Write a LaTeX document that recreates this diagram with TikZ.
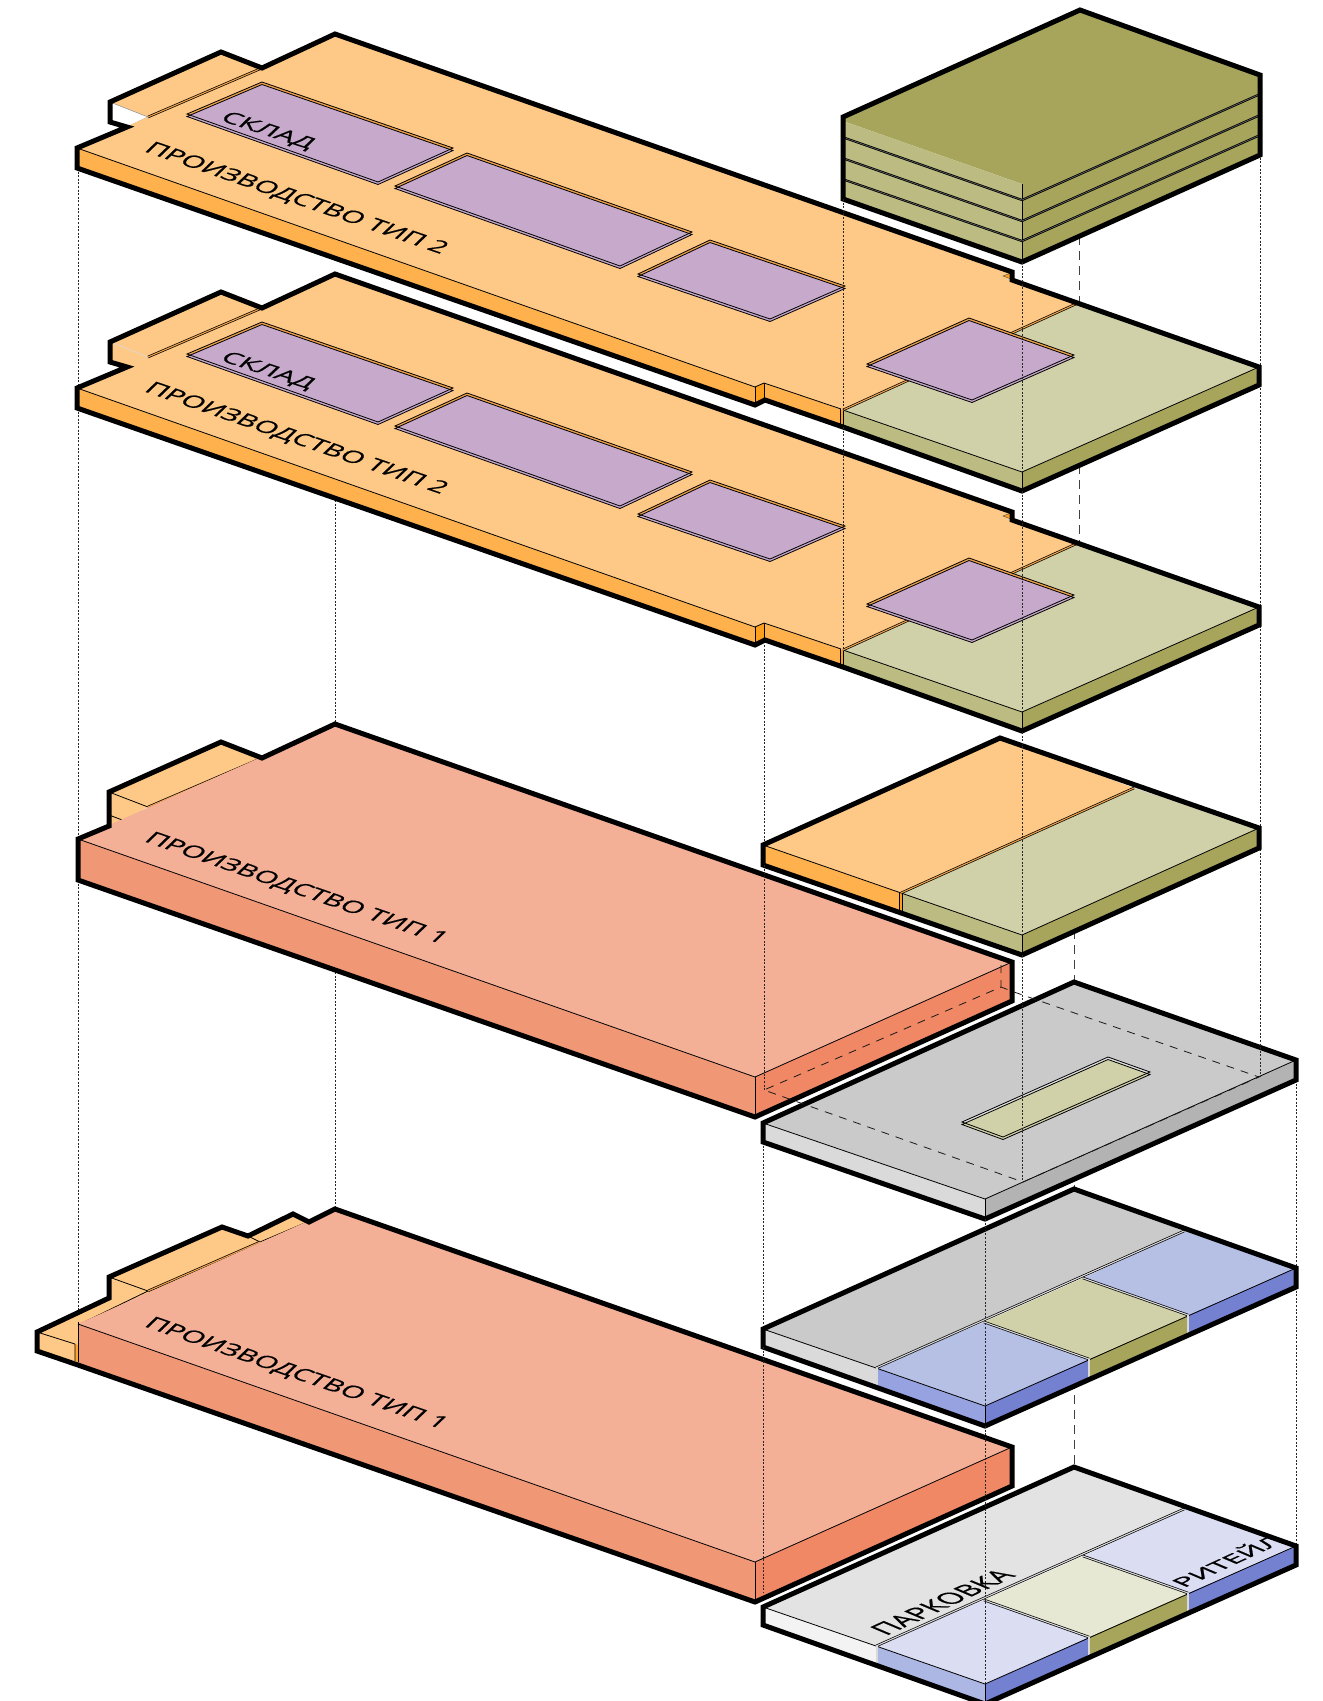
\documentclass[tikz,border=0pt]{standalone}
\usepackage{graphicx}
\usepackage{fontspec}
\setmainfont[FakeBold=0.6]{Open Sans}
\definecolor{otop}{HTML}{FEC986}
\definecolor{oside}{HTML}{FEB14D}
\definecolor{onotch}{HTML}{FF9F1E}
\definecolor{ogap}{HTML}{F0A24A}
\definecolor{gtop}{HTML}{D1D1A9}
\definecolor{gleft}{HTML}{BCBC82}
\definecolor{gright}{HTML}{A6A55B}
\definecolor{purp}{HTML}{C7A9CB}
\definecolor{rtop}{HTML}{F4B097}
\definecolor{rleft}{HTML}{F09876}
\definecolor{rright}{HTML}{F08865}
\definecolor{stop}{HTML}{CACACA}
\definecolor{sleft}{HTML}{DADADA}
\definecolor{sright}{HTML}{B3B3B3}
\definecolor{btop}{HTML}{B6C0E4}
\definecolor{bleft}{HTML}{97A3E0}
\definecolor{bright}{HTML}{7480D0}
\definecolor{stopb}{HTML}{E3E3E3}
\definecolor{sleftb}{HTML}{F3F3F3}
\definecolor{btopb}{HTML}{DBDEF2}
\definecolor{bleftb}{HTML}{ADB7E4}
\definecolor{gtopb}{HTML}{E6E8D4}
\tikzset{
  heavy/.style={draw=black,line width=5pt,line join=miter,miter limit=6},
  thin line/.style={draw=black,line width=.8pt},
  dots/.style={draw=black!85,line width=.7pt,dash pattern=on 2pt off 1.6pt},
  longdash/.style={draw=black!75,line width=.8pt,dash pattern=on 9pt off 6pt},
  hiddenedge/.style={draw=black!90,line width=.8pt,dash pattern=on 8pt off 7pt},
  dblorange/.style={draw=black,line width=.7pt,double=ogap,double distance=1.1pt},
  dblgray/.style={draw=black,line width=.7pt,double=white!85!black,double distance=1.1pt},
  dblfloor/.style={draw=black,line width=.8pt,double=black!60,double distance=.6pt},
}
% name, x, y, matrix, width, height, text
\newcommand{\isotext}[7]{\node[transform shape,cm={#4,(#2,#3)},anchor=base west,inner sep=0pt,text=black] (#1) at (0,0) {\resizebox{#5pt}{#6pt}{#7}};}
% gap colour, inner colour, four corners
\newcommand{\inset}[6]{%
  \path[fill=#1] #3--#4--#5--#6--cycle;
  \path[fill=#2,thin line,yshift=-2.5pt] #3--#4--#5--#6--cycle;
  \path[thin line] #3--#4--#5--#6--cycle;
}
% dy, wing side colour, wing line colour, name suffix
\newcommand{\prodlayer}[4]{%
\begin{scope}[shift={(0,#1)}]
  % side faces
  \fill[oside] (77,148)--(755,387)--(755,405)--(77,168)--cycle;
  \fill[onotch] (755,387)--(764,383)--(764,401)--(755,405)--cycle;
  \fill[oside] (764,383)--(843,410)--(843,427)--(764,400)--cycle;
  \fill[onotch] (840,409)--(843,410)--(843,427)--(840,426)--cycle;
  \fill[gleft] (843,410)--(1022,472)--(1022,491)--(843,427)--cycle;
  \fill[gright] (1022,472)--(1259,367)--(1259,385)--(1022,491)--cycle;
  % wing
  \fill[#2] (110,102)--(148,117)--(127,127)--(110,122)--cycle;
  \fill[otop] (110,102)--(221,52)--(262,68)--(148,117)--cycle;
  \path[draw=#3,line width=.6pt] (110,102)--(148,117)--(127,127);
  % top faces
  \fill[otop] (77,148)--(148,117)--(262,68)--(335,34)--(1012,272)--(1012,280)--(1078,303)--(843,410)--(764,383)--(755,387)--cycle;
  \fill[gtop] (1078,303)--(1259,367)--(1022,472)--(843,410)--cycle;
  % small notch
  \path[fill=onotch,draw=black!70,line width=.4pt] (1003,276)--(1011,273)--(1011,279)--cycle;
  % thin edges
  \path[thin line] (77,148)--(755,387)--(764,383)--(841,409);
  \path[thin line] (755,387)--(755,405);
  \path[thin line] (764,383)--(764,401);
  \path[thin line] (843,410)--(1022,472)--(1259,367);
  \path[thin line] (1022,472)--(1022,491);
  \path[thin line] (840,409)--(840,426);
  \path[thin line] (843,410)--(843,427);
  \path[dblorange] (148,117)--(262,68);
  \path[dblorange] (843,410)--(1078,303);
  % storage rooms
  \inset{ogap}{purp}{(262,82)}{(453,148)}{(378,182)}{(187,114)}
  \inset{ogap}{purp}{(467,153)}{(692,232)}{(620,266)}{(395,186)}
  \inset{ogap}{purp}{(710,240)}{(845,286)}{(770,319)}{(638,274)}
  \inset{ogap}{purp}{(969,318)}{(1074,355)}{(972,400)}{(867,364)}
  % outline
  \path[heavy] (77,148)--(127,127)--(110,122)--(110,102)--(221,52)--(262,68)--(335,34)--(1012,272)--(1012,280)--(1259,367)--(1259,385)--(1022,491)--(843,427)--(765,400)--(755,405)--(77,168)--cycle;
  \isotext{sklad#4}{219}{120}{.95,-.31,.72,.69}{94}{14}{СКЛАД}
  \isotext{prodtwo#4}{143}{151}{.945,-.327,.72,.69}{315}{15}{ПРОИЗВОДСТВО ТИП 2}
\end{scope}}
% dy, face colours: gray top, gray left, blue top, blue left, green top
\newcommand{\podium}[6]{%
\begin{scope}[shift={(0,#1)}]
  \fill[#3] (763,1329)--(876,1368)--(876,1386)--(763,1347)--cycle;
  \fill[#5] (876,1368)--(985,1406)--(985,1426)--(876,1386)--cycle;
  \fill[bright] (985,1406)--(1089,1359)--(1089,1377)--(985,1426)--cycle;
  \fill[gright] (1089,1359)--(1188,1315)--(1188,1333)--(1089,1377)--cycle;
  \fill[bright] (1188,1315)--(1296,1268)--(1296,1287)--(1188,1333)--cycle;
  \fill[#2] (763,1329)--(1074,1189)--(1184,1231)--(876,1368)--cycle;
  \fill[#4] (1184,1231)--(1296,1268)--(1188,1315)--(1083,1278)--cycle;
  \fill[#6] (1083,1278)--(1188,1315)--(1089,1359)--(984,1322)--cycle;
  \fill[#4] (984,1322)--(1089,1359)--(985,1406)--(876,1368)--cycle;
  \path[thin line] (763,1329)--(876,1368)--(985,1406)--(1296,1268);
  \path[thin line] (985,1406)--(985,1426);
  \path[dblgray] (876,1368)--(1184,1231);
  \path[dblgray] (1083,1278)--(1188,1315);
  \path[dblgray] (984,1322)--(1089,1359);
  \path[dblgray] (877,1368)--(877,1386);
  \path[dblgray] (1089,1359)--(1089,1377);
  \path[dblgray] (1188,1315)--(1188,1333);
  \path[heavy] (763,1329)--(1074,1189)--(1296,1268)--(1296,1287)--(985,1426)--(763,1347)--cycle;
\end{scope}}
% dy, name suffix
\newcommand{\redblock}[2]{%
\begin{scope}[shift={(0,#1)}]
  \fill[rleft] (78,839)--(755,1077)--(755,1117)--(78,880)--cycle;
  \fill[rright] (755,1077)--(1012,962)--(1012,1001)--(755,1117)--cycle;
  \fill[rtop] (78,839)--(335,724)--(1012,962)--(755,1077)--cycle;
  \path[thin line] (78,839)--(755,1077)--(1012,962);
  \path[thin line] (755,1077)--(755,1117);
  \isotext{prodone#2}{143}{841}{.945,-.327,.72,.69}{315}{15}{ПРОИЗВОДСТВО ТИП 1}
\end{scope}}
\begin{document}
\begin{tikzpicture}[x=1pt,y=-1pt]
\clip (0,0) rectangle (1323,1701);
\fill[white] (0,0) rectangle (1323,1701);

% projection lines behind the solids
\path[dots] (78,168)--(78,388);
\path[dots] (78,408)--(78,839);
\path[dots] (78,880)--(78,1322);
\path[dots] (335,500)--(335,724);
\path[dots] (335,972)--(335,1208);
\path[dots] (1260,75)--(1260,1040);
\path[dots] (764,645)--(764,845);
\path[dots] (763,1142)--(763,1329);
\path[dots] (1296,1080)--(1296,1268);
\path[dots] (1296,1287)--(1296,1544);
\path[longdash] (1079,236)--(1079,303);
\path[longdash] (1079,465)--(1079,543);
\path[longdash] (1074,900)--(1074,982);
\path[longdash] (1074,1170)--(1074,1189);
\path[longdash] (1074,1380)--(1074,1467);

% top building
\fill[gright] (843,117)--(1080,10)--(1260,75)--(1260,155)--(1022,262)--(1022,184)--(843,121)--cycle;
\fill[gleft] (843,121)--(1022,184)--(1022,262)--(843,199)--cycle;
\path[thin line] (1022,184)--(1022,262);
\path[dblfloor] (845,138)--(1022,200)--(1258,95);
\path[dblfloor] (845,159)--(1022,221)--(1258,116);
\path[dblfloor] (845,180)--(1022,241)--(1258,136);
\path[heavy] (843,117)--(1080,10)--(1260,75)--(1260,155)--(1022,262)--(843,199)--cycle;

% production floors
\prodlayer{0}{white}{black!40}{a}
\prodlayer{240}{otop}{black!15}{b}

% middle block at right
\fill[oside] (763,845)--(901,893)--(901,912)--(763,865)--cycle;
\fill[onotch] (899,892)--(902,893)--(902,912)--(899,911)--cycle;
\fill[gleft] (902,893)--(1022,935)--(1022,955)--(902,912)--cycle;
\fill[gright] (1022,935)--(1259,828)--(1259,848)--(1022,955)--cycle;
\fill[otop] (763,845)--(1000,738)--(1134,788)--(901,893)--cycle;
\fill[gtop] (1134,788)--(1259,828)--(1022,935)--(901,893)--cycle;
\path[thin line] (763,845)--(1022,935)--(1259,828);
\path[thin line] (1022,935)--(1022,955);
\path[thin line] (899,892)--(899,911);
\path[thin line] (902,893)--(902,912);
\path[dblorange] (901,893)--(1134,788);
\path[heavy] (763,845)--(1000,738)--(1259,828)--(1259,848)--(1022,955)--(763,865)--cycle;

% wings of first red block
\fill[otop] (109,792)--(221,742)--(262,758)--(148,807)--(125,820)--(109,826)--cycle;
\path[thin line] (109,792)--(148,807);
\path[thin line] (109,815)--(125,821);
\path[dblorange] (148,807)--(262,758);
\redblock{0}{c}
\path[heavy] (78,839)--(109,826)--(109,792)--(221,742)--(262,758)--(335,724)--(1012,962)--(1012,1001)--(755,1117)--(78,880)--cycle;

% slab with opening
\fill[sleft] (763,1123)--(985,1199)--(985,1219)--(763,1142)--cycle;
\fill[sright] (985,1199)--(1296,1060)--(1296,1080)--(985,1219)--cycle;
\fill[stop] (763,1123)--(1074,982)--(1296,1060)--(985,1199)--cycle;
\path[thin line] (763,1123)--(985,1199)--(1296,1060);
\path[thin line] (985,1199)--(985,1219);
\inset{white!88!black}{gtop}{(1108,1057)}{(1150,1072)}{(1003,1137)}{(962,1122)}
\path[heavy] (763,1123)--(1074,982)--(1296,1060)--(1296,1080)--(985,1219)--(763,1142)--cycle;

% lower podium
\podium{0}{stop}{sleft}{btop}{bleft}{gtop}

% wings of second red block
\fill[otop] (37,1332)--(109,1298)--(109,1277)--(222,1227)--(248,1236)--(293,1214)--(309,1222)--(127,1303)--(78,1325)--(78,1362)--(37,1351)--cycle;
\fill[onotch!80!otop] (75,1344)--(78,1345)--(78,1362)--(75,1361)--cycle;
\path[thin line] (37,1332)--(75,1344)--(75,1361);
\path[thin line] (109,1277)--(148,1291);
\path[thin line] (248,1236)--(260,1242);
\path[thin line] (260,1242)--(307,1222);
\path[dblorange] (148,1291)--(260,1242);
\path[thin line] (78,1325)--(148,1291);
\redblock{485}{d}
\path[thin line] (78,1322)--(78,1362);
\path[heavy] (37,1332)--(109,1298)--(109,1277)--(222,1227)--(248,1236)--(293,1214)--(309,1222)--(335,1209)--(1012,1447)--(1012,1486)--(755,1602)--(78,1365)--(37,1351)--cycle;

% ground floor
\podium{278}{stopb}{sleftb}{btopb}{bleftb}{gtopb}
\isotext{parking}{886}{1636}{.91,.42,-.92,.39}{143}{20}{ПАРКОВКА}
\isotext{retail}{1184}{1588}{.91,.42,-.92,.39}{112}{20}{РИТЕЙЛ}

% projection lines over the solids
\path[dots] (843,199)--(843,410);
\path[dots] (843,427)--(843,650);
\path[dots] (1022,262)--(1022,472);
\path[dots] (1022,491)--(1022,712);
\path[dots] (1022,732)--(1022,935);
\path[dots] (1022,955)--(1022,1182);
\path[dots] (764,865)--(764,1090);
\path[dots] (1260,1040)--(1260,1077);
\path[dots] (763,1347)--(763,1593);
\path[dots] (985,1219)--(985,1406);
\path[dots] (985,1426)--(985,1684);

% outline of the block above, projected
\path[hiddenedge] (1001,965)--(1001,987)--(764,1090)--(1023,1182)--(1259,1077)--(1014,992)--(1001,987);
\end{tikzpicture}
\end{document}
